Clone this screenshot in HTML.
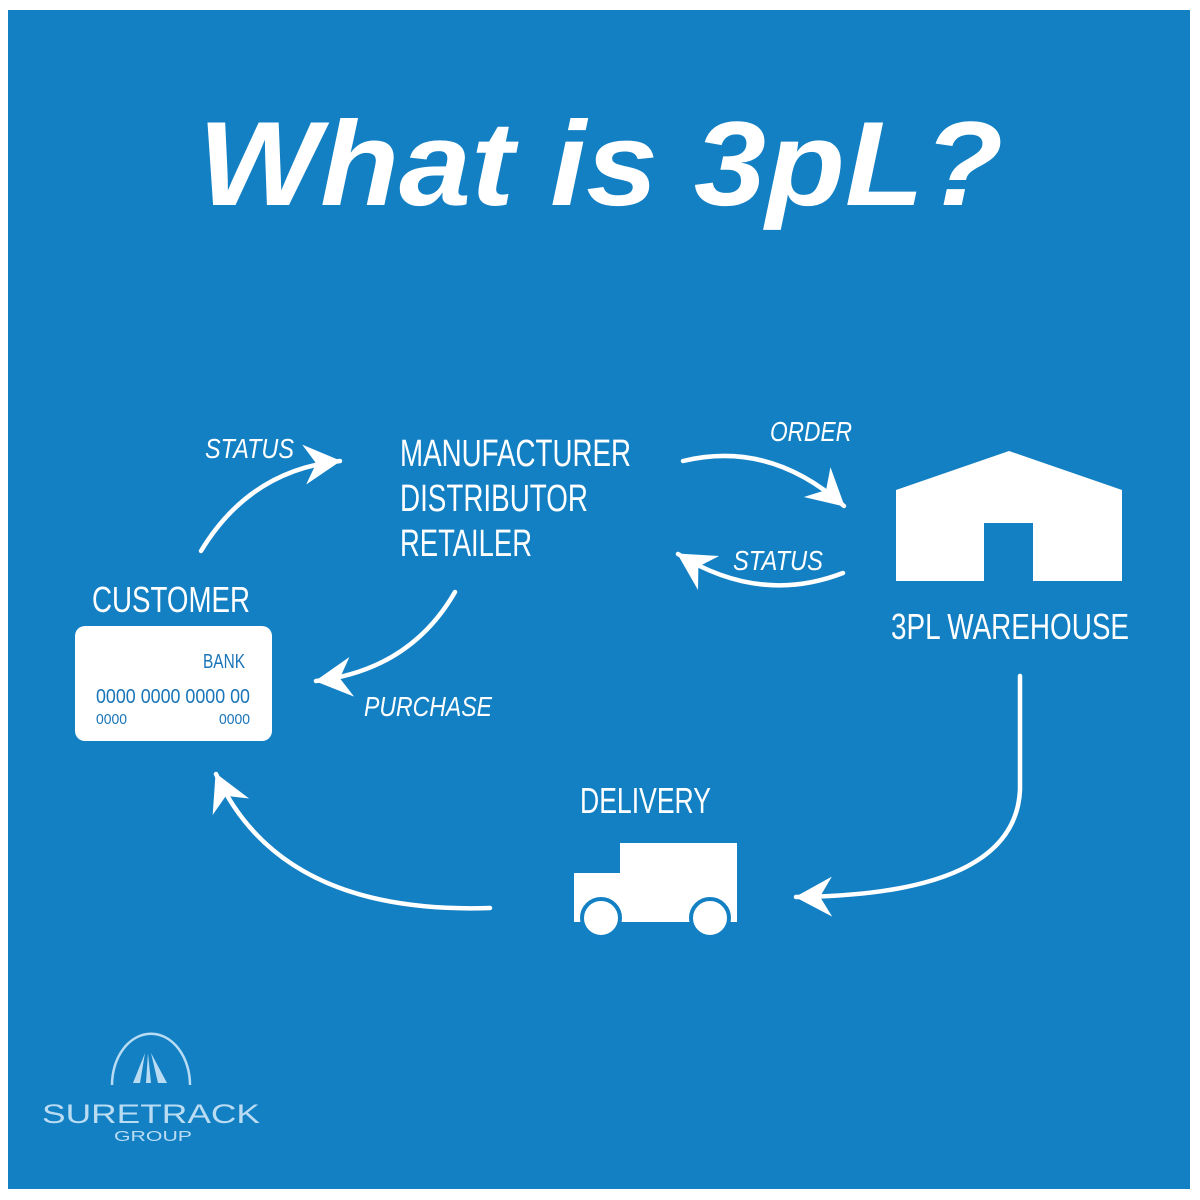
<!DOCTYPE html>
<html><head><meta charset="utf-8"><style>
html,body{margin:0;padding:0;background:#fff;width:1200px;height:1200px;overflow:hidden}
svg{display:block}
text{font-family:"Liberation Sans",sans-serif}
</style></head><body>
<svg width="1200" height="1200" viewBox="0 0 1200 1200">
<defs>
<marker id="ah" markerUnits="userSpaceOnUse" markerWidth="50" markerHeight="50" refX="2" refY="0" viewBox="-38 -25 44 50" orient="auto">
<path d="M3,0 L-34,-20 L-22,0 L-34,20 Z" fill="#fff"/>
</marker>
</defs>
<rect x="8" y="10" width="1182" height="1179" fill="#1380c4"/>
<text x="198" y="205" font-size="120" font-weight="bold" font-style="italic" fill="#fff" textLength="805" lengthAdjust="spacingAndGlyphs">What is 3pL?</text>

<g fill="none" stroke="#fff" stroke-width="4.5" stroke-linecap="round" marker-end="url(#ah)">
<path d="M201,551 Q250,470 340,461"/>
<path d="M455,592 Q410,670 316,681"/>
<path d="M683,461 Q770,440 844,506"/>
<path d="M843,573 Q760,605 678,554"/>
<path d="M1020,676 L1020,790 Q1015,895 796,897"/>
<path d="M490,908 Q280,915 216,774"/>
</g>

<g fill="#fff">
<text x="205" y="458" font-size="28" font-style="italic" textLength="89" lengthAdjust="spacingAndGlyphs">STATUS</text>
<text x="400" y="466" font-size="38" textLength="231" lengthAdjust="spacingAndGlyphs">MANUFACTURER</text>
<text x="400" y="511" font-size="38" textLength="188" lengthAdjust="spacingAndGlyphs">DISTRIBUTOR</text>
<text x="400" y="556" font-size="38" textLength="132" lengthAdjust="spacingAndGlyphs">RETAILER</text>
<text x="770" y="441" font-size="28" font-style="italic" textLength="82" lengthAdjust="spacingAndGlyphs">ORDER</text>
<text x="733" y="570" font-size="28" font-style="italic" textLength="90" lengthAdjust="spacingAndGlyphs">STATUS</text>
<text x="92" y="612" font-size="36" textLength="158" lengthAdjust="spacingAndGlyphs">CUSTOMER</text>
<text x="364" y="716" font-size="28" font-style="italic" textLength="128" lengthAdjust="spacingAndGlyphs">PURCHASE</text>
<text x="891" y="639" font-size="36" textLength="238" lengthAdjust="spacingAndGlyphs">3PL WAREHOUSE</text>
<text x="580" y="813" font-size="36" textLength="131" lengthAdjust="spacingAndGlyphs">DELIVERY</text>
<polygon points="896,490 1009,451 1122,490 1122,581 1033,581 1033,523 984,523 984,581 896,581"/>
<rect x="75" y="626" width="197" height="115" rx="10"/>
<path d="M620,843 H737 V922 H574 V873 H620 Z"/>
</g>
<g fill="#fff" stroke="#1380c4" stroke-width="4">
<circle cx="601" cy="918" r="19"/>
<circle cx="710" cy="918" r="19"/>
</g>
<g fill="#1a75b8">
<text x="203" y="668" font-size="20" textLength="42" lengthAdjust="spacingAndGlyphs">BANK</text>
<text x="96" y="703" font-size="20" textLength="154" lengthAdjust="spacingAndGlyphs">0000 0000 0000 00</text>
<text x="96" y="724" font-size="15" textLength="31" lengthAdjust="spacingAndGlyphs">0000</text>
<text x="219" y="724" font-size="15" textLength="31" lengthAdjust="spacingAndGlyphs">0000</text>
</g>

<g fill="#b9dcf3">
<path d="M112,1085 A38,50 0 0 1 190,1085" fill="none" stroke="#b9dcf3" stroke-width="2.5"/>
<polygon points="145,1053 133,1083 140,1083"/>
<polygon points="148,1053 146,1083 151,1083"/>
<polygon points="151,1053 158,1083 167,1083"/>
<text x="42" y="1123" font-size="27" textLength="218" lengthAdjust="spacingAndGlyphs">SURETRACK</text>
<text x="114" y="1141" font-size="15" textLength="78" lengthAdjust="spacingAndGlyphs">GROUP</text>
</g>
</svg>
</body></html>
